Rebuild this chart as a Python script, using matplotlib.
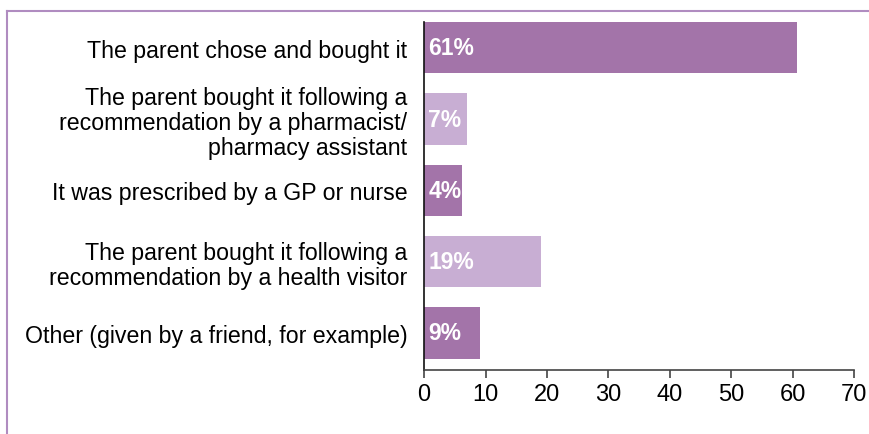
import numpy as np
import matplotlib.pyplot as plt
from matplotlib.lines import Line2D

categories = [
    'The parent chose and bought it',
    'The parent bought it following a\nrecommendation by a pharmacist/\npharmacy assistant',
    'It was prescribed by a GP or nurse',
    'The parent bought it following a\nrecommendation by a health visitor',
    'Other (given by a friend, for example)',
]
values = [60.7, 7.0, 6.2, 19.0, 9.1]
labels = ['61%', '7%', '4%', '19%', '9%']
xticks = [0, 10, 20, 30, 40, 50, 60, 70]

dark = '#A374A9'
light = '#C8AED3'
colors = [dark, light, dark, light, dark]

plt.rcParams['font.family'] = ['Liberation Sans', 'DejaVu Sans']

fig = plt.figure(figsize=(8.69, 4.35), dpi=100)
ax = fig.add_axes([0.488, 0.147, 0.495, 0.800])

idx = np.arange(len(categories))
ax.barh(idx, values, height=0.72, color=colors)

for i, lab in enumerate(labels):
    ax.text(0.7, i, lab, color='white', fontsize=16.5, fontweight='bold',
            va='center', ha='left')

ax.set_yticks(idx)
ax.set_yticklabels(categories, fontsize=16.7, linespacing=1.12)
ax.tick_params(axis='y', length=0, pad=12)
ax.set_xticks(xticks)
ax.tick_params(axis='x', labelsize=17, length=6, width=1.2, color='#444444', pad=3)
ax.set_xlim(0, 70)
ax.set_ylim(4.52, -0.36)

for s in ['top', 'right']:
    ax.spines[s].set_visible(False)
ax.spines['left'].set_color('#111111')
ax.spines['bottom'].set_color('#444444')
ax.spines['left'].set_linewidth(1.2)
ax.spines['bottom'].set_linewidth(1.2)

frame = '#B08CC0'
fig.add_artist(Line2D([0.008, 1.0], [0.973, 0.973], color=frame, lw=1.5,
                      transform=fig.transFigure))
fig.add_artist(Line2D([0.008, 0.008], [0.0, 0.973], color=frame, lw=1.5,
                      transform=fig.transFigure))

fig.savefig('out.png', dpi=100)
